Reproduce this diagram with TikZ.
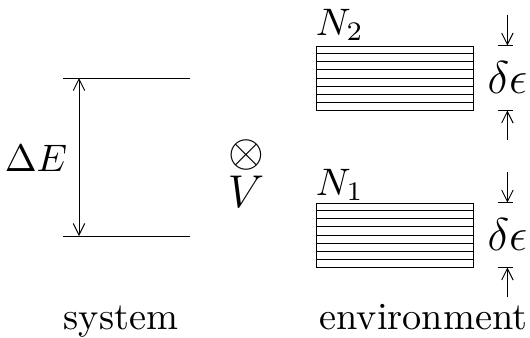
\documentclass[tikz,border=0pt]{standalone}
\usepackage{amsmath, amssymb}
\usepackage{tikz}
\usetikzlibrary{arrows.meta,positioning,calc}
\tikzset{
  lvlline/.style={line width=0.25pt},
  gaparr/.style={-{Straight Barb[length=3pt,width=3pt]},line width=0.25pt},
  bandbox/.style={draw,line width=0.25pt,inner sep=0pt,minimum width=41.2pt,minimum height=16.7pt},
  lbl/.style={inner sep=0pt}
}

\begin{document}
\begin{tikzpicture}[x=0.261pt,y=-0.261pt]
\useasboundingbox (0,0) rectangle (530,337);

% system: two levels
\coordinate (lo-l) at (63,78);  \coordinate (lo-r) at (190,78);
\coordinate (hi-l) at (63,236); \coordinate (hi-r) at (190,236);
\draw[lvlline] (lo-l) -- (lo-r);
\draw[lvlline] (hi-l) -- (hi-r);
\coordinate (gap-t) at (79,78);
\coordinate (gap-b) at (79,236);
\draw[gaparr,{Straight Barb[length=3pt,width=3pt]}-{Straight Barb[length=3pt,width=3pt]}] (gap-t) -- (gap-b);
\node[lbl] (dE) at (36,158) {$\Delta E$};

% coupling
\node[lbl] (otimes) at (246,155) {\large$\otimes$};
\node[lbl] (V) at (246,192) {\large$V$};

% environment: two bands
\node[bandbox] (band2) at (395,78) {};
\node[bandbox] (band1) at (395,235) {};
\foreach \b in {band1,band2}
  \foreach \k in {1,...,7}
    \draw[lvlline] ($(\b.north west)!\k/8!(\b.south west)$) -- ($(\b.north east)!\k/8!(\b.south east)$);
\node[lbl,anchor=west] (N2) at (315,25) {$N_2$};
\node[lbl,anchor=west] (N1) at (315,185) {$N_1$};

% band widths
\foreach \b/\n in {band2/2,band1/1}{
  \coordinate (t\n) at ($(\b.north east)+(33,0)$);
  \coordinate (u\n) at ($(\b.south east)+(33,0)$);
  \draw[lvlline] ($(t\n)+(-9,0)$) -- ($(t\n)+(6,0)$);
  \draw[lvlline] ($(u\n)+(-9,0)$) -- ($(u\n)+(6,0)$);
  \coordinate (ta\n) at ($(t\n)+(0,-31)$);
  \coordinate (ua\n) at ($(u\n)+(0,30)$);
  \draw[gaparr] (ta\n) -- (t\n);
  \draw[gaparr] (ua\n) -- (u\n);
  \node[lbl] (de\n) at ($(t\n)!0.5!(u\n)$) {\large$\delta\epsilon$};
}

% captions
\node[lbl,anchor=base] (sys) at (121,329) {system};
\node[lbl,anchor=base east] (env) at (528,329) {environment};
\end{tikzpicture}
\end{document}
